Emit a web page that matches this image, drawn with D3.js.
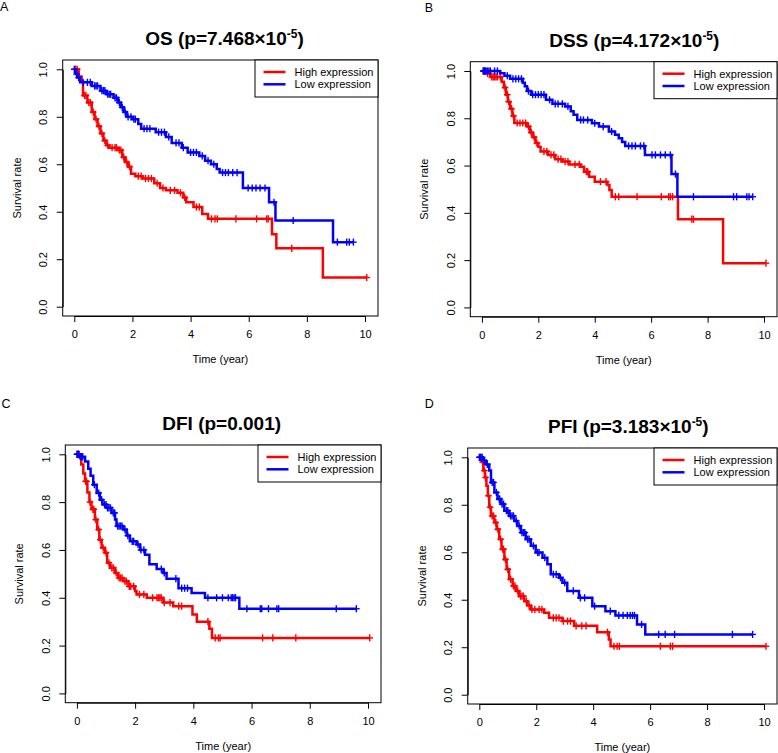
<!DOCTYPE html>
<html>
<head>
<meta charset="utf-8">
<script src="https://cdn.jsdelivr.net/npm/d3@7"></script>
<style>
  html, body { margin: 0; padding: 0; background: #fff; }
  svg { display: block; font-family: "Liberation Sans", Arial, Helvetica, sans-serif; }
</style>
</head>
<body>
<svg id="chart" width="778" height="753"></svg>
<script>
// ---------------- DATA ----------------
const xTicks = [0, 2, 4, 6, 8, 10];
const yTicks = [0.0, 0.2, 0.4, 0.6, 0.8, 1.0];
const panelLetters = ["A", "B", "C", "D"];
const panelNames = ["OS", "DSS", "DFI", "PFI"];
const pValueText = ["7.468×10", "4.172×10", "0.001", "3.183×10"];
const pValueExp = ["-5", "-5", "", "-5"];
const seriesNames = ["High expression", "Low expression"];
const xLabel = "Time (year)";
const yLabel = "Survival rate";

// OS
const osHighTime = [0.15,0.25,0.3,0.45,0.6,0.7,0.8,0.9,1.0,1.1,1.2,1.5,1.65,1.75,1.85,1.95,2.1,2.35,2.75,2.95,3.15,3.55,3.75,3.85,4.1,4.4,4.6,6.8,6.95,8.55];
const osHighSurv = [0.97,0.95,0.89,0.86,0.82,0.79,0.76,0.73,0.70,0.68,0.67,0.66,0.63,0.61,0.59,0.56,0.55,0.54,0.52,0.50,0.49,0.48,0.46,0.44,0.42,0.39,0.37,0.305,0.246,0.123];
const osHighCensor = [0.02,0.05,0.1,0.35,0.4,0.5,0.55,0.65,0.75,0.85,0.95,1.05,1.15,1.3,1.4,1.45,1.55,1.6,1.7,1.8,1.9,2.2,2.3,2.45,2.55,2.65,2.85,3.05,3.3,3.45,3.65,3.8,4.2,4.3,4.72,4.84,4.92,5.56,6.27,6.62,6.67,7.48,10.06];
const osLowTime = [0.05,0.1,0.2,0.6,0.9,1.1,1.35,1.5,1.6,1.7,1.8,2.0,2.2,2.3,2.8,3.15,3.35,3.7,3.9,4.3,4.5,4.7,4.9,5.0,5.8,6.7,6.92,8.9];
const osLowSurv = [0.98,0.965,0.945,0.93,0.91,0.895,0.88,0.86,0.84,0.82,0.80,0.79,0.77,0.75,0.735,0.715,0.69,0.67,0.65,0.635,0.615,0.60,0.58,0.565,0.50,0.44,0.363,0.272];
const osLowCensor = [0.0,0.08,0.15,0.3,0.45,0.55,0.7,0.75,0.8,0.95,1.0,1.05,1.15,1.2,1.25,1.4,1.45,1.55,1.65,1.75,1.85,1.95,2.05,2.1,2.4,2.5,2.6,2.9,3.0,3.1,3.25,3.5,3.6,3.75,4.0,4.1,4.2,4.4,4.6,4.8,5.1,5.2,5.3,5.45,5.6,5.98,6.12,6.25,6.39,6.56,6.87,7.53,9.05,9.37,9.46,9.6];

// DSS
const dssHighTime = [0.1,0.3,0.7,0.78,0.85,0.92,1.0,1.08,1.15,1.6,1.7,1.8,1.9,2.0,2.08,2.35,2.6,2.85,3.1,3.5,3.62,3.8,4.0,4.45,4.52,4.6,6.95,8.55];
const dssHighSurv = [0.99,0.975,0.955,0.93,0.90,0.87,0.84,0.81,0.78,0.765,0.74,0.72,0.695,0.68,0.66,0.645,0.627,0.617,0.605,0.595,0.574,0.553,0.532,0.518,0.497,0.468,0.373,0.187];
const dssHighCensor = [0.05,0.2,0.35,0.4,0.45,0.5,0.55,0.65,0.82,0.9,0.95,1.05,1.12,1.25,1.35,1.45,1.55,1.65,1.75,1.85,1.95,2.2,2.3,2.45,2.55,2.7,2.8,2.95,3.05,3.3,3.45,3.7,3.75,4.2,4.4,4.73,4.85,5.5,6.36,6.62,6.68,6.76,7.44,7.5,10.07];
const dssLowTime = [0.65,0.8,1.0,1.45,1.52,1.6,1.75,2.27,2.5,2.95,3.15,3.25,3.38,3.9,4.15,4.5,4.72,4.85,4.97,5.08,5.78,6.72,6.93];
const dssLowSurv = [0.99,0.98,0.967,0.95,0.935,0.915,0.90,0.878,0.861,0.85,0.83,0.815,0.793,0.779,0.765,0.744,0.73,0.716,0.70,0.683,0.645,0.564,0.468];
const dssLowCensor = [0.05,0.08,0.1,0.12,0.15,0.2,0.25,0.3,0.45,0.55,0.9,1.1,1.2,1.3,1.4,1.65,1.8,1.9,2.0,2.1,2.2,2.4,2.6,2.7,2.85,3.05,3.5,3.6,3.75,4.0,4.3,4.6,5.2,5.32,5.44,5.62,5.74,6.03,6.15,6.33,6.5,6.68,6.86,7.5,8.92,9.03,9.39,9.47,9.6];

// DFI
const dfiHighTime = [0.1,0.15,0.22,0.28,0.36,0.43,0.5,0.62,0.7,0.77,0.85,0.96,1.04,1.14,1.31,1.42,1.59,1.77,2.0,2.05,2.4,2.97,3.31,3.97,4.12,4.55,4.64];
const dfiHighSurv = [0.985,0.957,0.92,0.887,0.84,0.80,0.77,0.727,0.685,0.643,0.609,0.588,0.546,0.525,0.504,0.483,0.469,0.448,0.427,0.414,0.40,0.38,0.365,0.33,0.30,0.27,0.232];
const dfiHighCensor = [0.02,0.05,0.08,0.3,0.33,0.45,0.55,0.58,0.65,0.75,0.8,0.9,1.0,1.1,1.2,1.25,1.35,1.45,1.5,1.55,1.65,1.7,1.8,1.85,1.95,2.15,2.3,2.6,2.75,2.8,2.85,2.9,3.0,3.2,3.5,3.6,4.5,4.75,4.86,4.92,6.38,6.73,7.52,10.06];
const dfiLowTime = [0.1,0.28,0.39,0.47,0.56,0.68,0.79,0.88,1.02,1.19,1.31,1.36,1.59,1.71,1.82,2.05,2.17,2.34,2.49,2.74,2.97,3.08,3.49,3.94,4.4,5.58];
const dfiLowSurv = [0.99,0.97,0.94,0.91,0.873,0.838,0.81,0.79,0.776,0.755,0.727,0.70,0.685,0.66,0.636,0.623,0.60,0.58,0.54,0.52,0.504,0.48,0.44,0.42,0.40,0.354];
const dfiLowCensor = [0.0,0.03,0.06,0.12,0.15,0.2,0.6,0.75,0.85,0.95,1.0,1.05,1.1,1.15,1.25,1.3,1.4,1.45,1.5,1.55,1.65,1.75,1.9,1.95,2.1,2.2,2.3,2.9,3.0,3.4,3.6,3.7,3.8,4.5,4.8,5.0,5.2,5.3,5.35,5.4,5.45,5.84,6.3,6.35,6.58,6.87,6.93,8.91,9.6];

// PFI
const pfiHighTime = [0.09,0.14,0.2,0.25,0.3,0.35,0.41,0.53,0.61,0.7,0.78,0.88,0.96,1.05,1.17,1.28,1.4,1.58,1.69,1.81,2.28,2.45,2.92,3.33,4.14,4.55,4.61];
const pfiHighSurv = [0.98,0.944,0.915,0.88,0.838,0.79,0.753,0.725,0.697,0.655,0.613,0.57,0.528,0.486,0.458,0.437,0.415,0.394,0.376,0.359,0.345,0.324,0.31,0.29,0.263,0.232,0.204];
const pfiHighCensor = [0.05,0.12,0.18,0.22,0.32,0.38,0.45,0.5,0.58,0.65,0.75,0.82,0.85,0.92,1.0,1.1,1.2,1.25,1.35,1.45,1.5,1.55,1.65,1.75,1.85,1.95,2.1,2.2,2.6,2.7,2.8,2.95,3.1,3.2,3.4,3.6,3.75,4.5,4.73,4.84,4.92,6.36,6.71,6.79,10.07];
const pfiLowTime = [0.12,0.23,0.35,0.41,0.53,0.64,0.76,0.88,1.05,1.23,1.34,1.46,1.63,1.81,1.98,2.22,2.39,2.51,2.8,2.92,3.09,3.5,3.97,4.43,4.78,5.54,5.83];
const pfiLowSurv = [0.986,0.97,0.944,0.894,0.852,0.824,0.803,0.775,0.753,0.732,0.711,0.683,0.655,0.627,0.599,0.577,0.549,0.507,0.493,0.472,0.437,0.408,0.373,0.352,0.334,0.296,0.254];
const pfiLowCensor = [0.0,0.03,0.06,0.1,0.18,0.28,0.45,0.5,0.6,0.7,0.72,0.8,0.85,0.95,1.0,1.1,1.15,1.2,1.3,1.4,1.5,1.55,1.6,1.7,1.75,1.9,2.05,2.1,2.3,2.6,2.7,2.85,3.0,3.3,3.55,3.7,4.05,4.6,4.9,5.05,5.2,5.3,5.38,5.45,5.7,6.3,6.53,6.86,8.89,9.6];

// ---------------- LAYOUT (not data) ----------------
const seriesColors = ["#ff0000", "#0000ff"];
const layouts = [
  { box: {l: 62.7, t: 60,   r: 378, b: 316},   titleX: 224.5, letter: {x: 0,     y: 11}  },
  { box: {l: 470.3, t: 61.7, r: 777, b: 316.7}, titleX: 634.3, letter: {x: 424.7, y: 12}  },
  { box: {l: 65.3, t: 445,  r: 381, b: 702.7}, titleX: 221.7, letter: {x: 1.5,   y: 408} },
  { box: {l: 467.7, t: 448, r: 777, b: 704},   titleX: 628.3, letter: {x: 424.7, y: 408} }
];
const panelSeries = [
  [[osHighTime, osHighSurv, osHighCensor], [osLowTime, osLowSurv, osLowCensor]],
  [[dssHighTime, dssHighSurv, dssHighCensor], [dssLowTime, dssLowSurv, dssLowCensor]],
  [[dfiHighTime, dfiHighSurv, dfiHighCensor], [dfiLowTime, dfiLowSurv, dfiLowCensor]],
  [[pfiHighTime, pfiHighSurv, pfiHighCensor], [pfiLowTime, pfiLowSurv, pfiLowCensor]]
];

const svg = d3.select("#chart");
const FONT = 11;

function stepValue(times, surv, t) {
  let v = 1;
  for (let i = 0; i < times.length; i++) { if (times[i] <= t) v = surv[i]; }
  return v;
}

layouts.forEach((L, pi) => {
  const b = L.box;
  const g = svg.append("g");
  const x = d3.scaleLinear().domain([0, 10]).range([b.l + 11.6, b.r - 13]);
  const y = d3.scaleLinear().domain([0, 1]).range([b.b - 9.3, b.t + 9.3]);

  // panel letter
  g.append("text").attr("x", L.letter.x).attr("y", L.letter.y)
    .attr("font-size", 12.5).attr("fill", "#000").text(panelLetters[pi]);

  // title
  const title = g.append("text").attr("x", L.titleX).attr("y", b.t - 15)
    .attr("text-anchor", "middle").attr("font-size", 19).attr("font-weight", "bold");
  title.append("tspan").text(panelNames[pi] + " (p=" + pValueText[pi]);
  if (pValueExp[pi]) {
    title.append("tspan").attr("font-size", 12).attr("dy", -7).text(pValueExp[pi]);
    title.append("tspan").attr("dy", 7).text(")");
  } else {
    title.append("tspan").text(")");
  }

  // axes
  const xAxis = g.append("g").attr("transform", `translate(0,${b.b})`)
    .call(d3.axisBottom(x).tickValues(xTicks).tickSize(6).tickSizeOuter(0).tickPadding(8.2).tickFormat(d3.format("d")));
  const yAxis = g.append("g").attr("transform", `translate(${b.l},0)`)
    .call(d3.axisLeft(y).tickValues(yTicks).tickSize(6).tickSizeOuter(0).tickFormat(d3.format(".1f")));
  [xAxis, yAxis].forEach(a => {
    a.selectAll("path, line").attr("stroke", "#000").attr("stroke-width", 1);
    a.selectAll("text").attr("font-size", FONT).attr("fill", "#000")
      .attr("font-family", "Liberation Sans, Arial, Helvetica, sans-serif");
  });
  yAxis.selectAll("text").attr("x", null).attr("dy", null).attr("text-anchor", "middle")
    .attr("transform", "translate(-15.5,0) rotate(-90)");

  // axis labels
  g.append("text").attr("x", (b.l + b.r) / 2).attr("y", b.b + 47)
    .attr("text-anchor", "middle").attr("font-size", FONT).text(xLabel);
  g.append("text").attr("transform", `translate(${b.l - 42},${(b.t + b.b) / 2}) rotate(-90)`)
    .attr("text-anchor", "middle").attr("font-size", FONT).text(yLabel);

  // curves
  const line = d3.line().x(d => x(d[0])).y(d => y(d[1])).curve(d3.curveStepAfter);
  panelSeries[pi].forEach((s, si) => {
    const [times, surv, cens] = s;
    const end = Math.max(d3.max(cens), d3.max(times));
    const pts = [[0, 1]].concat(times.map((t, i) => [t, surv[i]]));
    pts.push([end, surv[surv.length - 1]]);
    g.append("path").datum(pts).attr("d", line)
      .attr("fill", "none").attr("stroke", seriesColors[si]).attr("stroke-width", 2.5);
    const marks = g.append("g").attr("stroke", seriesColors[si]).attr("stroke-width", 1.4);
    cens.forEach(t => {
      const cx = x(t), cy = y(stepValue(times, surv, t));
      marks.append("line").attr("x1", cx).attr("x2", cx).attr("y1", cy - 3.6).attr("y2", cy + 3.6);
      marks.append("line").attr("x1", cx - 3.3).attr("x2", cx + 3.3).attr("y1", cy).attr("y2", cy);
    });
  });

  // box
  g.append("rect").attr("x", b.l).attr("y", b.t).attr("width", b.r - b.l).attr("height", b.b - b.t)
    .attr("fill", "none").attr("stroke", "#000").attr("stroke-width", 1);

  // legend
  const lw = 123, lh = 37, lx = b.r - lw, ly = b.t;
  const lg = g.append("g");
  lg.append("rect").attr("x", lx).attr("y", ly).attr("width", lw).attr("height", lh)
    .attr("fill", "#fff").attr("stroke", "#000").attr("stroke-width", 1);
  seriesNames.forEach((name, si) => {
    const yy = ly + 12 + si * 12.3;
    lg.append("line").attr("x1", lx + 8.5).attr("x2", lx + 30.5).attr("y1", yy).attr("y2", yy)
      .attr("stroke", seriesColors[si]).attr("stroke-width", 2.5);
    lg.append("text").attr("x", lx + 39.5).attr("y", yy).attr("dy", "0.36em")
      .attr("font-size", FONT).text(name);
  });
});
</script>
</body>
</html>
